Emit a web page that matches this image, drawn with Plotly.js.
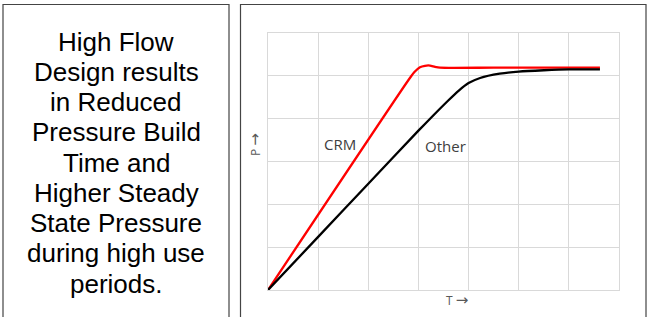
<!DOCTYPE html>
<html>
<head>
<meta charset="utf-8">
<script src="https://cdn.plot.ly/plotly-3.0.1.min.js"></script>
<style>html,body{margin:0;padding:0;background:#fff;}#chart{width:647px;height:317px;}</style>
</head>
<body>
<div id="chart"></div>
<script>
// ---- data ----
const crmT = [0, 2.83, 2.93, 3.03, 3.13, 3.23, 3.33, 3.43, 4.5, 6.62];
const crmP = [0, 4.95, 5.10, 5.20, 5.235, 5.24, 5.21, 5.19, 5.19, 5.19];
const otherT = [0, 1, 2, 3, 3.3, 3.6, 3.8, 4.0, 4.23, 4.62, 5.0, 5.5, 6.0, 6.62];
const otherP = [0, 1.24, 2.48, 3.72, 4.08, 4.43, 4.65, 4.83, 4.95, 5.05, 5.10, 5.13, 5.15, 5.15];
const seriesNames = ["CRM", "Other"];
const noteLines = ["High Flow", "Design results", "in Reduced", "Pressure Build", "Time and",
  "Higher Steady", "State Pressure", "during high use", "periods."];
const xTitle = "T";
const yTitle = "P";
const arrow = "<span style='font-family:DejaVu Sans;font-size:15px'>\u2192</span>";

// ---- layout helpers (pixel -> paper) ----
const W = 647, H = 317, L = 268, R = 619, T = 33, B = 290;
const px = x => (x - L) / (R - L);
const py = y => (B - y) / (B - T);

const traces = [
  {x: crmT, y: crmP, mode: 'lines', name: seriesNames[0],
   line: {color: '#ff0000', width: 2.3, shape: 'spline', smoothing: 0.6}, hoverinfo: 'skip'},
  {x: otherT, y: otherP, mode: 'lines', name: seriesNames[1],
   line: {color: '#000000', width: 2.3, shape: 'spline', smoothing: 0.6}, hoverinfo: 'skip'}
];

const annotations = noteLines.map((t, i) => ({
  text: t, xref: 'paper', yref: 'paper', x: px(116), y: py(41.7 + i * 30.25),
  xanchor: 'center', yanchor: 'middle', showarrow: false,
  font: {family: 'Liberation Sans, Arial, sans-serif', size: 26, color: '#000'}
}));
annotations.push(
  {text: seriesNames[0], xref: 'paper', yref: 'paper', x: px(340), y: py(144),
   xanchor: 'center', yanchor: 'middle', showarrow: false,
   font: {family: 'Open Sans, sans-serif', size: 15, color: '#404040'}},
  {text: seriesNames[1], xref: 'paper', yref: 'paper', x: px(445), y: py(146),
   xanchor: 'center', yanchor: 'middle', showarrow: false,
   font: {family: 'Open Sans, sans-serif', size: 15, color: '#404040'}},
  {text: xTitle + " " + arrow, xref: 'paper', yref: 'paper', x: px(457), y: py(300),
   xanchor: 'center', yanchor: 'middle', showarrow: false,
   font: {family: 'Open Sans, sans-serif', size: 12, color: '#595959'}},
  {text: yTitle + " " + arrow, xref: 'paper', yref: 'paper', x: px(255), y: py(145), textangle: -90,
   xanchor: 'center', yanchor: 'middle', showarrow: false,
   font: {family: 'Open Sans, sans-serif', size: 12, color: '#595959'}}
);

const shapes = [
  {type: 'rect', xref: 'paper', yref: 'paper', x0: px(3), x1: px(229), y0: py(330), y1: py(4.5),
   line: {color: '#444', width: 1.2}, fillcolor: 'rgba(0,0,0,0)', layer: 'below'},
  {type: 'rect', xref: 'paper', yref: 'paper', x0: px(240.5), x1: px(646), y0: py(330), y1: py(4.5),
   line: {color: '#444', width: 1.2}, fillcolor: 'rgba(0,0,0,0)', layer: 'below'}
];

const axisCommon = {
  showticklabels: false, ticks: '', showgrid: true, gridcolor: '#d9d9d9', gridwidth: 1,
  zeroline: false, showline: true, linecolor: '#d9d9d9', linewidth: 1, mirror: true,
  dtick: 1, fixedrange: true
};

const layout = {
  width: W, height: H,
  margin: {l: L, r: W - R, t: T, b: H - B, pad: 0},
  paper_bgcolor: '#fff', plot_bgcolor: '#fff',
  showlegend: false,
  xaxis: Object.assign({}, axisCommon, {range: [0, 7], tick0: 0}),
  yaxis: Object.assign({}, axisCommon, {range: [0, 6], tick0: 0}),
  annotations: annotations,
  shapes: shapes
};

Plotly.newPlot('chart', traces, layout, {displayModeBar: false, staticPlot: true});
</script>
</body>
</html>
